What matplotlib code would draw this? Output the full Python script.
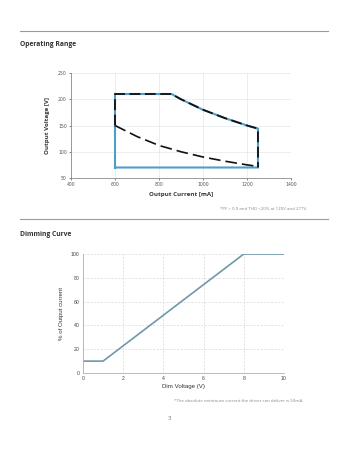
import matplotlib
matplotlib.use("Agg")
import matplotlib.pyplot as plt
from matplotlib.lines import Line2D

# Operating range (output current in mA, output voltage in V)
range_current = [600, 600, 857, 900, 1000, 1100, 1200, 1250, 1250, 600]
range_voltage = [70, 210, 210, 200, 180, 164, 150, 144, 70, 70]

upper_current = [600, 600, 857, 900, 1000, 1100, 1200, 1250, 1250]
upper_voltage = [150, 210, 210, 200, 180, 164, 150, 144, 70]

lower_current = [600, 700, 800, 900, 1000, 1100, 1200, 1250]
lower_voltage = [150, 129, 112, 100, 90, 82, 75, 72]

range_xticks = [400, 600, 800, 1000, 1200, 1400]
range_yticks = [50, 100, 150, 200, 250]

# Dimming curve
dim_voltage = [0, 1, 8, 10]
dim_output = [10, 10, 100, 100]
dim_xticks = [0, 2, 4, 6, 8, 10]
dim_yticks = [0, 20, 40, 60, 80, 100]

W, H = 348, 450
fig = plt.figure(figsize=(W / 100, H / 100), dpi=100)
fig.patch.set_facecolor("white")


def px(x, y):
    return x / W, 1 - y / H


# page rules and headings
for y in (31, 219):
    fig.add_artist(Line2D([20 / W, 328 / W], [1 - y / H, 1 - y / H],
                          color="#9a9a9a", linewidth=0.8))
fig.text(*px(20, 45), "Operating Range", fontsize=4.9, fontweight="bold",
         family="Open Sans", color="#333333", va="center")
fig.text(*px(20, 234), "Dimming Curve", fontsize=4.9, fontweight="bold",
         family="Open Sans", color="#333333", va="center")

# --- operating range chart
ax1 = fig.add_axes([71 / W, 1 - 178 / H, 220 / W, 105 / H])
ax1.plot(range_current, range_voltage, color="#4f9ec8", linewidth=1.5,
         solid_joinstyle="miter")
ax1.plot(upper_current, upper_voltage, color="#111111", linewidth=1.3,
         dashes=(6, 2.5))
ax1.plot(lower_current, lower_voltage, color="#111111", linewidth=1.2,
         dashes=(7, 3))
ax1.set_xlim(400, 1400)
ax1.set_ylim(50, 250)
ax1.set_xticks(range_xticks)
ax1.set_yticks(range_yticks)
ax1.grid(True, color="#dfe7ec", linewidth=0.5)
ax1.set_axisbelow(True)
for side in ("top", "right"):
    ax1.spines[side].set_visible(False)
for side in ("left", "bottom"):
    ax1.spines[side].set_color("#8a8a8a")
    ax1.spines[side].set_linewidth(0.6)
ax1.tick_params(labelsize=3.3, length=1.5, width=0.5, pad=1.5,
                colors="#555555")
ax1.set_xlabel("Output Current [mA]", fontsize=4.4, fontweight="bold",
               family="Open Sans", color="#333333", labelpad=3.5)
ax1.set_ylabel("Output Voltage [V]", fontsize=4.4, fontweight="bold",
               family="Open Sans", color="#333333", labelpad=6)
fig.text(*px(307, 209), "*PF > 0.9 and THD <20% at 120V and 277V.",
         fontsize=3.2, color="#888888", ha="right", va="center",
         family="Open Sans")

# --- dimming curve chart
ax2 = fig.add_axes([83 / W, 1 - 373 / H, 201 / W, 119 / H])
ax2.plot(dim_voltage, dim_output, color="#6f98aa", linewidth=1.2)
ax2.set_xlim(0, 10)
ax2.set_ylim(0, 100)
ax2.set_xticks(dim_xticks)
ax2.set_yticks(dim_yticks)
ax2.grid(True, color="#d8d8d8", linewidth=0.5, linestyle=(0, (3, 2)))
ax2.set_axisbelow(True)
for side in ("top", "right"):
    ax2.spines[side].set_visible(False)
for side in ("left", "bottom"):
    ax2.spines[side].set_color("#b0b0b0")
    ax2.spines[side].set_linewidth(0.6)
ax2.tick_params(labelsize=3.7, length=0, pad=2.5, colors="#444444")
for lbl in ax2.get_xticklabels() + ax2.get_yticklabels():
    lbl.set_family("Liberation Sans")
ax2.set_xlabel("Dim Voltage (V)", fontsize=4.4, family="Liberation Sans",
               color="#333333", labelpad=2)
ax2.set_ylabel("% of Output current", fontsize=4.4, family="Liberation Sans",
               color="#333333", labelpad=5)
fig.text(*px(303, 401),
         "*The absolute minimum current the driver can deliver is 50mA.",
         fontsize=3.2, color="#888888", ha="right", va="center",
         family="Open Sans")
fig.text(*px(169, 418), "3", fontsize=4.4, color="#777777", ha="center",
         va="center", family="Open Sans")

fig.savefig("out.png", dpi=100, facecolor="white")
